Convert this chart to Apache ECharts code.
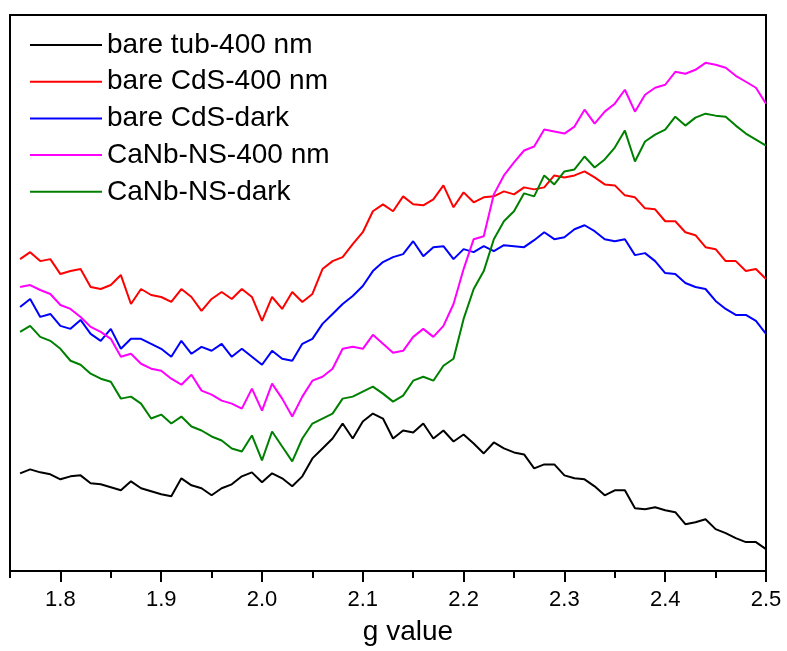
<!DOCTYPE html>
<html>
<head>
<meta charset="utf-8">
<script src="https://cdn.jsdelivr.net/npm/echarts@6/dist/echarts.min.js"></script>
<style>
html,body{margin:0;padding:0;background:#fff;}
#chart{width:787px;height:651px;}
</style>
</head>
<body>
<div id="chart"></div>
<script>
// g values (x)
var gValues = [1.76,1.77,1.78,1.79,1.80,1.81,1.82,1.83,1.84,1.85,1.86,1.87,1.88,1.89,1.90,
1.91,1.92,1.93,1.94,1.95,1.96,1.97,1.98,1.99,2.00,2.01,2.02,2.03,2.04,2.05,
2.06,2.07,2.08,2.09,2.10,2.11,2.12,2.13,2.14,2.15,2.16,2.17,2.18,2.19,2.20,
2.21,2.22,2.23,2.24,2.25,2.26,2.27,2.28,2.29,2.30,2.31,2.32,2.33,2.34,2.35,
2.36,2.37,2.38,2.39,2.40,2.41,2.42,2.43,2.44,2.45,2.46,2.47,2.48,2.49,2.50];

var seriesNames = ['bare tub-400 nm','bare CdS-400 nm','bare CdS-dark','CaNb-NS-400 nm','CaNb-NS-dark'];

var bareTub400 = [98,102,99,97,92,95,96,88,87,84,81,90,83,80,77,75,93,86,83,76,83,87,95,99,89,
98,93,85,95,113,123,133,148,133,150,158,153,133,141,139,148,133,141,130,137,
128,118,129,123,119,117,103,107,107,96,93,92,85,76,81,81,63,62,64,61,59,47,49,52,42,38,33,29,29,22];

var bareCdS400 = [313,320,311,313,298,301,303,285,283,287,297,268,283,277,275,270,283,275,261,273,
280,273,283,275,251,275,263,280,270,278,303,311,315,328,340,361,368,361,376,368,
367,373,387,365,380,370,375,376,381,378,385,383,385,397,395,397,401,395,388,387,
377,375,364,363,351,351,340,337,325,323,311,311,301,303,293];

var bareCdSDark = [265,273,255,258,246,243,252,238,231,243,223,233,233,228,223,215,231,218,225,221,
228,215,223,215,207,221,213,211,228,233,248,258,268,276,286,301,310,315,318,331,
316,325,326,313,323,320,326,321,327,326,325,332,340,333,335,343,347,341,333,331,
333,317,319,311,299,298,289,285,283,271,263,257,257,251,238];

var caNbNS400 = [285,287,282,278,267,263,255,245,240,233,215,218,208,203,201,193,187,197,181,177,
171,168,163,183,161,188,173,155,175,191,195,203,223,225,223,237,228,219,221,235,
243,235,246,268,303,333,336,378,397,410,422,426,443,441,439,446,463,449,461,469,
483,461,478,485,488,501,499,503,510,508,505,497,491,485,469];

var caNbNSDark = [240,246,235,231,223,211,207,198,193,190,173,175,168,153,157,148,155,145,141,135,
131,123,120,136,111,140,125,110,133,148,153,158,173,175,180,185,178,170,176,191,
195,191,206,213,253,283,301,333,351,361,379,376,397,388,401,403,416,405,413,425,
442,411,431,438,443,456,447,455,459,457,456,447,439,433,427];

var majorTicks = [1.8,1.9,2.0,2.1,2.2,2.3,2.4,2.5];
var minorTicks = [1.75,1.85,1.95,2.05,2.15,2.25,2.35,2.45];

var seriesData = [bareTub400, bareCdS400, bareCdSDark, caNbNS400, caNbNSDark];
var colors = ['#000000','#ff0000','#0000ff','#ff00ff','#008000'];

function pairs(ys){ return gValues.map(function(g,i){ return [g, ys[i]]; }); }

var FONT = 'Arial, "Liberation Sans", sans-serif';
var chart = echarts.init(document.getElementById('chart'), null, {renderer:'canvas'});
chart.setOption({
  animation:false,
  backgroundColor:'#ffffff',
  color: colors,
  grid:{left:10, right:21, top:15, bottom:78, show:true, borderColor:'#000', borderWidth:2, backgroundColor:'transparent'},
  legend:{
    show:true, orient:'vertical', left:25, top:26,
    itemWidth:72, itemHeight:2, itemGap:8.7,
    icon:'path://M0,0L72,0L72,2L0,2Z',
    textStyle:{fontFamily:FONT, fontSize:28, color:'#000', lineHeight:28},
    data: seriesNames
  },
  xAxis:[{
    type:'value', min:1.75, max:2.5, position:'bottom',
    name:'g value', nameLocation:'middle', nameGap:47,
    nameTextStyle:{fontFamily:FONT, fontSize:28, color:'#000', padding:[0,0,0,40]},
    axisLine:{show:true, lineStyle:{color:'#000', width:2}},
    axisTick:{show:true, inside:false, length:11, lineStyle:{color:'#000', width:2}, customValues: majorTicks},
    axisLabel:{show:true, margin:18, fontFamily:FONT, fontSize:22, color:'#000', customValues: majorTicks,
      formatter:function(v){ return v.toFixed(1); }},
    splitLine:{show:false}
  },{
    type:'value', min:1.75, max:2.5, position:'bottom',
    axisLine:{show:false},
    axisTick:{show:true, inside:false, length:7, lineStyle:{color:'#000', width:2}, customValues: minorTicks},
    axisLabel:{show:false},
    splitLine:{show:false}
  }],
  yAxis:{type:'value', min:0, max:558, show:false, splitLine:{show:false}},
  series: seriesNames.map(function(n,i){
    return {
      name:n, type:'line', xAxisIndex:0, data:pairs(seriesData[i]),
      symbol:'none', smooth:false,
      lineStyle:{color:colors[i], width:2},
      itemStyle:{color:colors[i]}
    };
  })
});
</script>
</body>
</html>
